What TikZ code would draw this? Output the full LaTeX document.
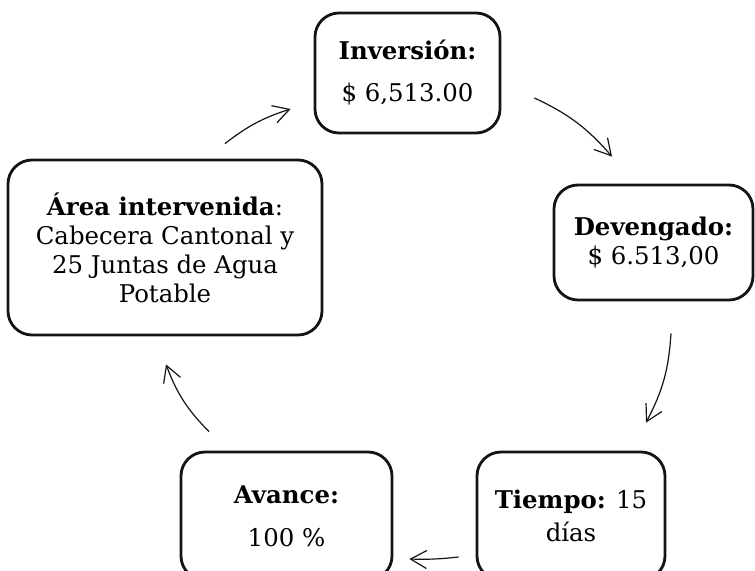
\documentclass[tikz,border=0pt]{standalone}
\usepackage{fontspec}
\setmainfont{DejaVu Serif}
\usepackage{tikz}
\usetikzlibrary{arrows.meta,positioning}
\definecolor{cInk}{RGB}{20,20,20}
\tikzset{
  box/.style={draw=cInk, line width=1.4pt, rounded corners=12pt, align=center,
              inner sep=2pt, font=\fontsize{12.2}{14.5}\selectfont},
  arr/.style={-{Straight Barb[length=8pt,width=9pt]}, draw=cInk, line width=0.6pt},
}

\begin{document}
\begin{tikzpicture}[x=0.5pt, y=-0.5pt]
\useasboundingbox (0,0) rectangle (755,571);
\node[box, minimum width=92.5pt, minimum height=60pt] (inv) at (407.5,73)
  {\textbf{Inversión:}\\[6.5pt]\$ 6,513.00};
\node[box, minimum width=99.5pt, minimum height=57.5pt] (dev) at (653.5,242.5)
  {\textbf{Devengado:}\\\$ 6.513,00};
\node[box, minimum width=94pt, minimum height=64pt] (tiem) at (571,516)
  {\textbf{Tiempo:} 15\\[2pt]días};
\node[box, minimum width=105.5pt, minimum height=64pt] (av) at (286.5,516)
  {\textbf{Avance:}\\[7pt]100~\%};
\node[box, minimum width=157pt, minimum height=87.5pt] (area) at (165,247.5)
  {\textbf{Área intervenida}:\\Cabecera Cantonal y\\25 Juntas de Agua\\Potable};

\draw[arr] ([shift={(60,-15)}]area.north) to[bend left=10] ([shift={(-23,36)}]inv.west);
\draw[arr] ([shift={(33,25)}]inv.east) to[bend left=12] ([shift={(-41.5,-27)}]dev.north);
\draw[arr] ([shift={(17.5,32)}]dev.south) to[bend left=12] ([shift={(75,-28)}]tiem.north);
\draw[arr] ([shift={(-17,41)}]tiem.west) to[bend left=4] ([shift={(16,43)}]av.east);
\draw[arr] ([shift={(-77.5,-19)}]av.north) to[bend left=12] ([shift={(1,28)}]area.south);
\end{tikzpicture}
\end{document}
